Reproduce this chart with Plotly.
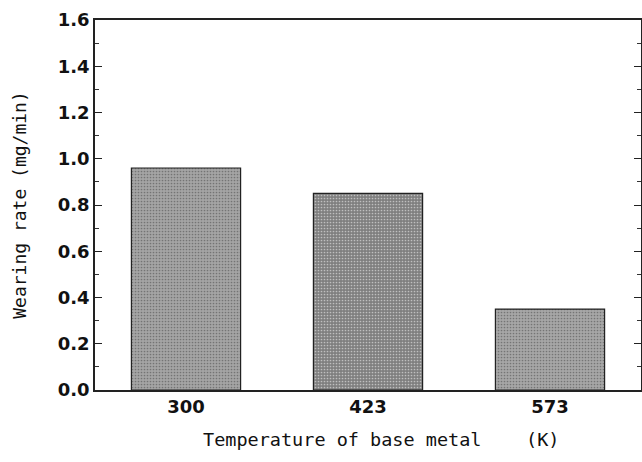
import plotly.graph_objects as go

categories = ["300", "423", "573"]
wear_rate = [0.96, 0.85, 0.35]
bar_colors = ["#a4a4a4", "#7f7f7f", "#a6a6a6"]
y_ticks = [0.0, 0.2, 0.4, 0.6, 0.8, 1.0, 1.2, 1.4, 1.6]
x_title = "Temperature of base metal\u00a0\u00a0\u00a0\u00a0(K)"
y_title = "Wearing rate (mg/min)"

fig = go.Figure()
fig.add_trace(go.Bar(
    x=categories, y=wear_rate,
    marker=dict(color=bar_colors,
                line=dict(color="#222222", width=1.2),
                pattern=dict(shape=".", fgcolor="#5c5c5c", size=3, solidity=0.25)),
    width=0.6,
))

fig.update_layout(
    width=642, height=462,
    margin=dict(l=95, r=1, t=20, b=72),
    paper_bgcolor="white", plot_bgcolor="white",
    showlegend=False,
    font=dict(family="DejaVu Sans", color="#111111"),
)
fig.add_annotation(
    text=x_title, xref="paper", yref="paper", x=0.524, y=-0.134,
    xanchor="center", yanchor="middle", showarrow=False,
    font=dict(family="DejaVu Sans Mono", size=18.5, color="#111111"),
)
fig.update_xaxes(
    type="category", automargin=False,
    showline=True, linecolor="#222222", linewidth=1.5, mirror=True,
    ticks="", showgrid=False,
    tickfont=dict(family="DejaVu Sans", size=18, color="#111111", weight="bold"),
)
fig.update_yaxes(
    range=[0, 1.6], automargin=False,
    tickvals=y_ticks, ticktext=[f"{v:.1f}" for v in y_ticks],
    showline=True, linecolor="#222222", linewidth=1.5, mirror="ticks",
    ticks="inside", ticklen=7, tickwidth=1.3, tickcolor="#222222",
    minor=dict(dtick=0.1, ticks="inside", ticklen=4, tickcolor="#333333", tickwidth=1),
    showgrid=False, zeroline=False,
    tickfont=dict(family="DejaVu Sans", size=18, color="#111111", weight="bold"),
    title=dict(text=y_title,
               font=dict(family="DejaVu Sans Mono", size=18, color="#111111"),
               standoff=26),
)

fig.write_html("out.html",
               config={"displayModeBar": False},
               post_script="document.body.style.margin='0';document.body.style.overflow='hidden';")
